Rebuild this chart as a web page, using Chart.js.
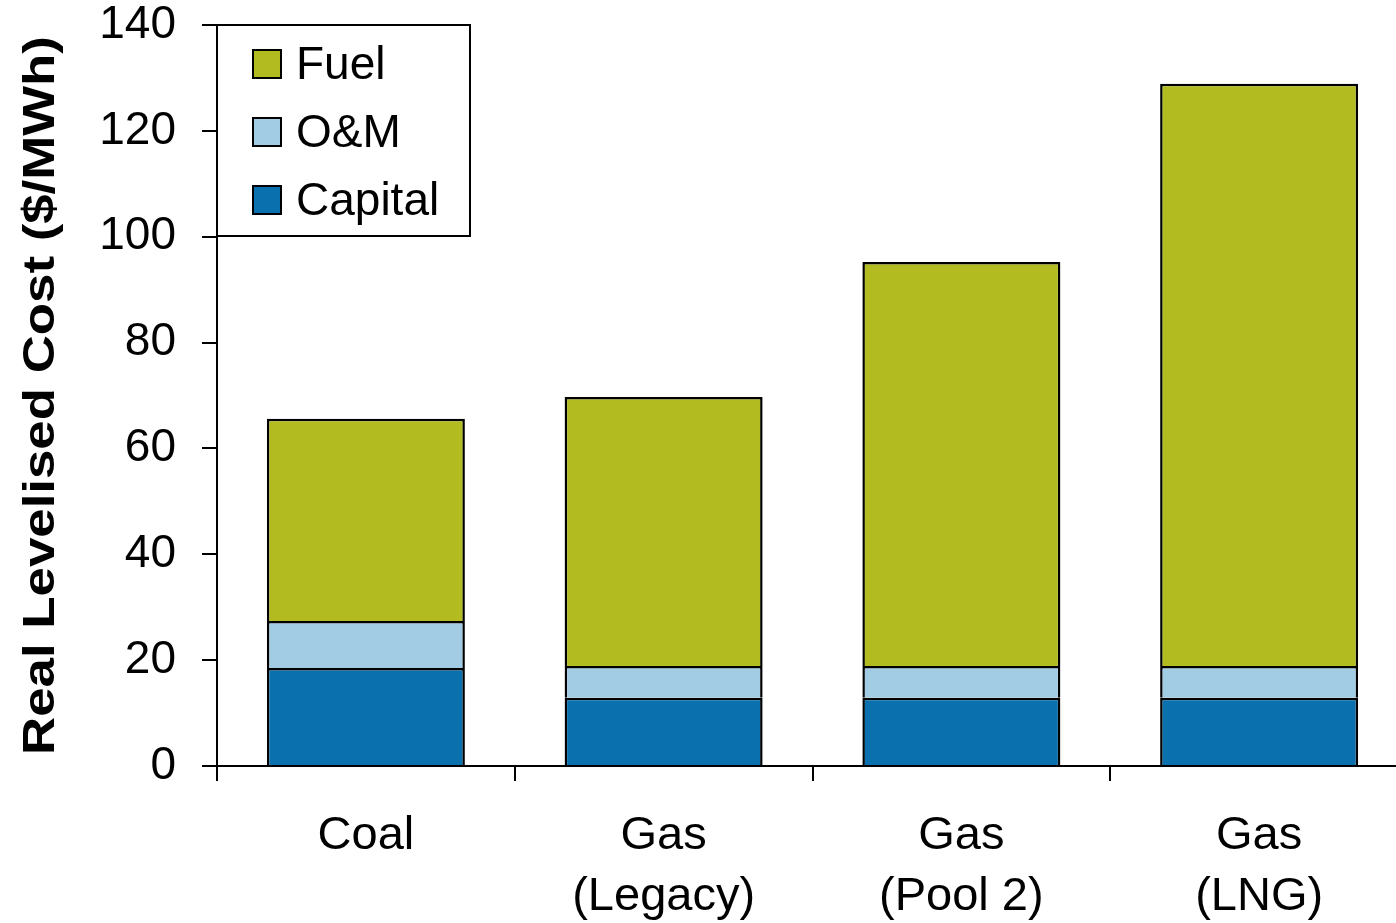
<!DOCTYPE html>
<html>
<head>
<meta charset="utf-8">
<script src="https://cdn.jsdelivr.net/npm/chart.js@4/dist/chart.umd.min.js"></script>
<style>
  html, body { margin: 0; padding: 0; background: #fff; overflow: hidden; }
  #box { position: absolute; left: 0; top: 0; width: 1408px; height: 923px; }
</style>
</head>
<body>
<div id="box"><canvas id="grafico"></canvas></div>
<script>
const categorias = [['Coal'], ['Gas', '(Legacy)'], ['Gas', '(Pool 2)'], ['Gas', '(LNG)']];
const capital = [18.5, 12.9, 12.9, 12.9];
const oem = [8.9, 6.0, 6.0, 6.0];
const combustivel = [38.2, 50.8, 76.3, 110.0];
const ticksY = [0, 20, 40, 60, 80, 100, 120, 140];
const tituloY = 'Real Levelised Cost ($/MWh)';

const FONTE = '"Liberation Sans", Arial, sans-serif';

// legenda com moldura dentro da área do gráfico (Fuel em cima)
const legendaCaixa = {
    id: 'legendaCaixa',
    afterDraw(chart) {
        const c = chart.ctx;
        const area = chart.chartArea;
        const x0 = area.left, y0 = area.top;
        const w = 253, h = 211;
        c.save();
        c.fillStyle = '#fff';
        c.fillRect(x0, y0, w, h);
        c.strokeStyle = '#000';
        c.lineWidth = 2;
        c.strokeRect(x0, y0, w, h);
        const itens = chart.data.datasets.slice().reverse();
        c.font = '46px ' + FONTE;
        c.textBaseline = 'middle';
        itens.forEach((ds, i) => {
            const cy = y0 + 39 + i * 68;
            c.fillStyle = ds.backgroundColor;
            c.fillRect(x0 + 36, cy - 14, 28, 28);
            c.lineWidth = 2;
            c.strokeStyle = '#000';
            c.strokeRect(x0 + 36, cy - 14, 28, 28);
            c.fillStyle = '#000';
            c.fillText(ds.label, x0 + 79, cy + 2);
        });
        c.restore();
    }
};

// título do eixo Y, negrito e um pouco esticado no sentido do texto
const tituloEixo = {
    id: 'tituloEixo',
    afterDraw(chart) {
        const c = chart.ctx;
        const area = chart.chartArea;
        c.save();
        c.translate(42, (area.top + area.bottom) / 2);
        c.rotate(-Math.PI / 2);
        c.scale(1.2, 1);
        c.font = 'bold 44px ' + FONTE;
        c.fillStyle = '#000';
        c.textAlign = 'center';
        c.textBaseline = 'middle';
        c.fillText(tituloY, 0, 0);
        c.restore();
    }
};

const ctx = document.getElementById('grafico').getContext('2d');
const grafico = new Chart(ctx, {
    type: 'bar',
    data: {
        labels: categorias,
        datasets: [
            { label: 'Capital', data: capital, backgroundColor: '#0a71ae' },
            { label: 'O&M', data: oem, backgroundColor: '#a1cce4' },
            { label: 'Fuel', data: combustivel, backgroundColor: '#b2bb20' }
        ]
    },
    options: {
        responsive: true,
        maintainAspectRatio: false,
        animation: false,
        layout: { padding: { top: 25, left: 0, right: 0, bottom: 0 } },
        datasets: {
            bar: {
                borderColor: '#000',
                borderWidth: 2.5,
                borderSkipped: 'start', // a borda de baixo fica com o segmento de baixo / eixo
                categoryPercentage: 1,
                barPercentage: 0.665
            }
        },
        plugins: {
            legend: { display: false },
            tooltip: { enabled: false }
        },
        scales: {
            x: {
                stacked: true,
                border: { color: '#000', width: 2 },
                grid: { offset: true, drawOnChartArea: false, color: '#000', lineWidth: 2, tickLength: 15 },
                ticks: { color: '#000', font: { family: FONTE, size: 47, lineHeight: 1.3 }, padding: 24, maxRotation: 0 },
                afterFit(escala) {
                    escala.height = 157;
                    escala.paddingLeft = 0;
                    escala.paddingRight = 0;
                }
            },
            y: {
                stacked: true,
                min: 0,
                max: 140,
                afterBuildTicks(escala) { escala.ticks = ticksY.map(v => ({ value: v })); },
                border: { color: '#000', width: 2 },
                grid: { drawOnChartArea: false, color: '#000', lineWidth: 2, tickLength: 15 },
                ticks: { color: '#000', font: { family: FONTE, size: 46 }, padding: 26 },
                afterFit(escala) {
                    escala.width = 217;
                    escala.paddingTop = 0;
                    escala.paddingBottom = 0;
                }
            }
        }
    },
    plugins: [legendaCaixa, tituloEixo]
});
</script>
</body>
</html>
